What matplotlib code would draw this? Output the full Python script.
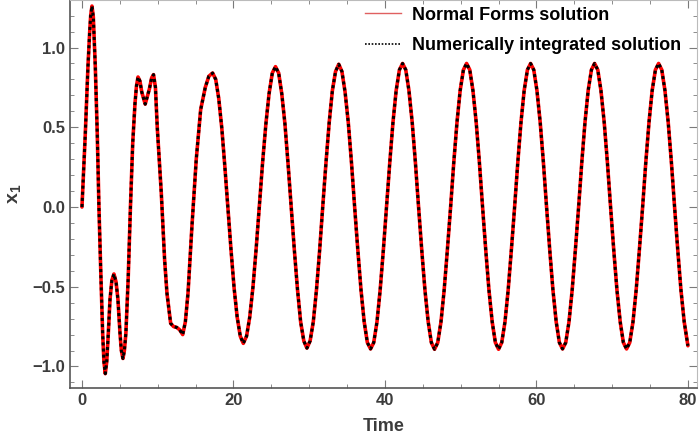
import matplotlib.pyplot as plt
from matplotlib.lines import Line2D
from matplotlib.ticker import MultipleLocator

plt.rcParams["font.family"] = ["Liberation Sans", "DejaVu Sans"]
plt.rcParams["mathtext.fontset"] = "custom"
plt.rcParams["mathtext.bf"] = "Liberation Sans:bold"

# Values (time, x1)
time = [
    0.0, 0.44, 0.79, 1.01, 1.15, 1.32, 1.5, 1.76, 2.02, 2.24, 2.46, 2.73, 2.9, 3.08,
    3.27, 3.48, 3.70, 3.95, 4.22, 4.5, 4.75, 5.02, 5.2, 5.41, 5.6, 5.8, 6.1, 6.4,
    6.7, 7.0, 7.2, 7.4, 7.65, 7.9, 8.35, 8.9, 9.2, 9.45, 9.7, 9.94, 10.47, 10.91,
    11.22, 11.71, 12.1, 12.5, 12.9, 13.3, 13.65, 14.0, 14.52, 15.09, 15.67, 16.28,
    16.75, 17.25,
    17.66, 18.06, 18.47, 18.87, 19.28, 19.68, 20.09, 20.49, 20.90, 21.3,
    21.73, 22.15, 22.58, 23.0, 23.43, 23.85, 24.28, 24.70, 25.13, 25.55,
    25.97, 26.38, 26.80, 27.21, 27.63, 28.04, 28.46, 28.87, 29.29, 29.7,
    30.12, 30.54, 30.96, 31.38, 31.80, 32.22, 32.64, 33.06, 33.48, 33.9,
    34.32, 34.74, 35.16, 35.58, 36.0, 36.42, 36.84, 37.26, 37.68, 38.1,
    38.52, 38.95, 39.37, 39.79, 40.22, 40.64, 41.06, 41.48, 41.91, 42.33,
    42.75, 43.17, 43.60, 44.02, 44.44, 44.86, 45.28, 45.71, 46.13, 46.55,
    46.97, 47.40, 47.82, 48.24, 48.67, 49.09, 49.51, 49.93, 50.36, 50.78,
    51.20, 51.62, 52.05, 52.47, 52.89, 53.31, 53.73, 54.16, 54.58, 55.0,
    55.42, 55.85, 56.27, 56.69, 57.12, 57.54, 57.96, 58.38, 58.81, 59.23,
    59.65, 60.07, 60.50, 60.92, 61.34, 61.76, 62.18, 62.61, 63.03, 63.45,
    63.87, 64.30, 64.72, 65.14, 65.57, 65.99, 66.41, 66.83, 67.26, 67.68,
    68.10, 68.52, 68.95, 69.37, 69.79, 70.21, 70.63, 71.06, 71.48, 71.9,
    72.32, 72.75, 73.17, 73.59, 74.02, 74.44, 74.86, 75.28, 75.71, 76.13,
    76.55, 76.97, 77.40, 77.82, 78.24, 78.66, 79.08, 79.51, 80.0,
]

x1_normal_forms = [
    0.0, 0.46, 0.88, 1.09, 1.20, 1.26, 1.19, 0.88, 0.46, 0.0, -0.37, -0.79, -0.97, -1.045,
    -0.97, -0.79, -0.58, -0.46, -0.42, -0.47, -0.58, -0.79, -0.90, -0.95, -0.90, -0.79, -0.45, 0.0,
    0.40, 0.65, 0.76, 0.815, 0.79, 0.72, 0.645, 0.74, 0.81, 0.83, 0.75, 0.50, 0.09, -0.33,
    -0.54, -0.73, -0.75, -0.755, -0.77, -0.80, -0.72, -0.54, -0.12, 0.30, 0.61, 0.75,
    0.82, 0.84,
    0.80, 0.68, 0.49, 0.25, -0.01, -0.27, -0.51, -0.69, -0.81, -0.855,
    -0.81, -0.69, -0.50, -0.26, 0.01, 0.28, 0.52, 0.71, 0.84, 0.88,
    0.84, 0.71, 0.52, 0.27, 0.00, -0.27, -0.52, -0.72, -0.84, -0.885,
    -0.84, -0.72, -0.52, -0.27, 0.01, 0.28, 0.53, 0.73, 0.85, 0.895,
    0.85, 0.72, 0.53, 0.28, 0.00, -0.27, -0.52, -0.72, -0.85, -0.89,
    -0.85, -0.72, -0.52, -0.27, 0.01, 0.28, 0.53, 0.73, 0.86, 0.90,
    0.86, 0.73, 0.53, 0.28, 0.00, -0.27, -0.52, -0.72, -0.85, -0.892,
    -0.85, -0.72, -0.52, -0.27, 0.00, 0.28, 0.53, 0.73, 0.86, 0.90,
    0.86, 0.73, 0.53, 0.28, 0.00, -0.27, -0.52, -0.72, -0.85, -0.892,
    -0.85, -0.72, -0.52, -0.27, 0.00, 0.28, 0.53, 0.73, 0.86, 0.90,
    0.86, 0.73, 0.53, 0.28, 0.00, -0.27, -0.52, -0.72, -0.85, -0.89,
    -0.85, -0.72, -0.52, -0.27, 0.00, 0.28, 0.53, 0.73, 0.86, 0.90,
    0.86, 0.73, 0.53, 0.28, 0.00, -0.27, -0.52, -0.72, -0.85, -0.89,
    -0.85, -0.72, -0.52, -0.27, 0.00, 0.28, 0.53, 0.73, 0.86, 0.90,
    0.86, 0.73, 0.53, 0.28, 0.00, -0.27, -0.52, -0.72, -0.87,
]

# the two solutions coincide at the resolution of the picture
x1_numerical = list(x1_normal_forms)

series_labels = ["Normal Forms solution", "Numerically integrated solution"]

label_color = "#3c3c3c"
frame_color = "#7a7a7a"

fig = plt.figure(figsize=(6.99, 4.44), dpi=100)
ax = fig.add_axes([70 / 699, 56 / 444, 627 / 699, 388 / 444])

ax.plot(time, x1_normal_forms, color="red", lw=2.6, solid_capstyle="round", zorder=2)
ax.plot(time, x1_numerical, color="black", lw=2.2, linestyle=(0, (1.0, 1.0)), zorder=3)

ax.set_xlim(-1.58, 81.2)
ax.set_ylim(-1.135, 1.298)

ax.xaxis.set_major_locator(MultipleLocator(20))
ax.xaxis.set_minor_locator(MultipleLocator(5))
ax.yaxis.set_major_locator(MultipleLocator(0.5))
ax.yaxis.set_minor_locator(MultipleLocator(0.1))
ax.tick_params(which="both", direction="in", top=True, right=True, color=frame_color,
               labelcolor=label_color, labelsize=12)
ax.tick_params(which="major", length=6, width=0.8)
ax.tick_params(which="minor", length=3, width=0.6)
for lbl in ax.get_xticklabels() + ax.get_yticklabels():
    lbl.set_fontweight("bold")

for side in ["left", "bottom"]:
    ax.spines[side].set_color("#555555")
    ax.spines[side].set_linewidth(1.2)
for side in ["top", "right"]:
    ax.spines[side].set_color("#bbbbbb")
    ax.spines[side].set_linewidth(0.8)

ax.set_xlabel("Time", fontsize=13, fontweight="bold", color=label_color, labelpad=7)
ax.set_ylabel(r"$\mathbf{x}_\mathbf{1}$", fontsize=14, color=label_color, labelpad=6)

handles = [
    Line2D([], [], color="#e06060", lw=1.0),
    Line2D([], [], color="black", lw=1.2, linestyle=(0, (1.0, 1.0))),
]
leg = ax.legend(handles, series_labels, loc="upper right", bbox_to_anchor=(1.0, 1.025),
                frameon=False, handlelength=2.0, handletextpad=0.6, labelspacing=0.75,
                prop={"weight": "bold", "size": 13})
for txt in leg.get_texts():
    txt.set_color("black")

fig.savefig("out.png", dpi=100)
